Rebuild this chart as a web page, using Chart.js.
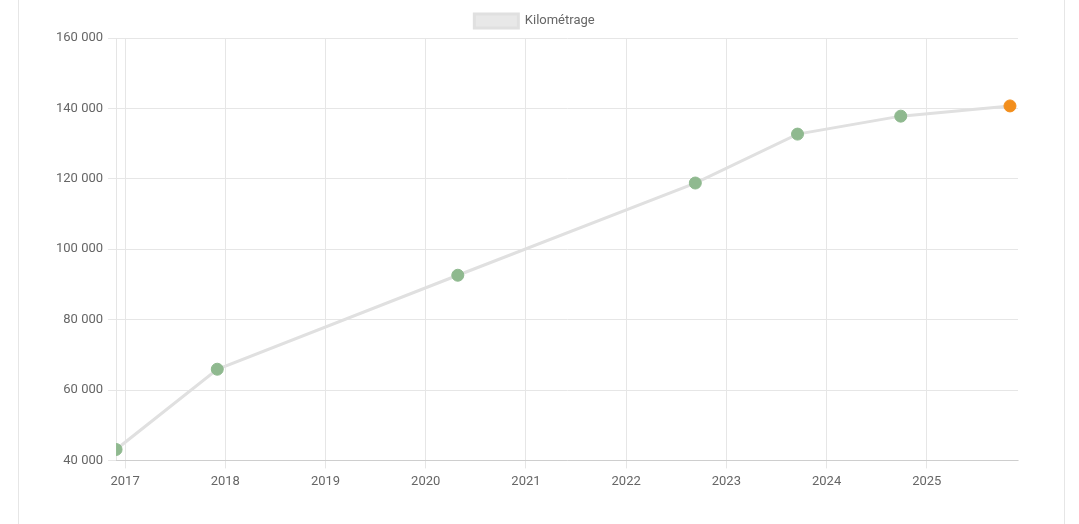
<!DOCTYPE html>
<html>
<head>
<meta charset="utf-8">
<script src="https://cdn.jsdelivr.net/npm/chart.js@4"></script>
<style>
  html, body { margin: 0; padding: 0; background: #fff; }
  .card {
    position: absolute;
    left: 18px; top: -2px;
    width: 1047px; height: 540px;
    border: 1px solid #e6e6e6;
    box-sizing: border-box;
  }
  #wrap { position: absolute; left: 0; top: 0; width: 1079px; height: 524px; }
</style>
</head>
<body>
<div class="card"></div>
<div id="wrap"><canvas id="kmChart"></canvas></div>
<script>
// Readings (decimal year, km)
const dates = [2016.91, 2017.92, 2020.32, 2022.69, 2023.71, 2024.74, 2025.83];
const mileage = [43100, 65900, 92600, 118800, 132700, 137800, 140700];
const pointColors = ['#8fb98f', '#8fb98f', '#8fb98f', '#8fb98f', '#8fb98f', '#8fb98f', '#f28e1c'];
const yearTicks = [2017, 2018, 2019, 2020, 2021, 2022, 2023, 2024, 2025];
const xMin = 2016.91, xMax = 2025.91;

Chart.defaults.font.family = 'Roboto, "Noto Sans", sans-serif';
Chart.defaults.font.size = 13;
Chart.defaults.color = '#666';

function fmt(v) {
  return String(v).replace(/\B(?=(\d{3})+(?!\d))/g, ' ');
}

const ctx = document.getElementById('kmChart');
new Chart(ctx, {
  type: 'line',
  data: {
    datasets: [{
      label: 'Kilométrage',
      data: dates.map((d, i) => ({ x: d, y: mileage[i] })),
      borderColor: '#e0e0e0',
      backgroundColor: '#e8e8e8',
      borderWidth: 3,
      tension: 0,
      pointRadius: 6,
      pointHoverRadius: 6,
      pointBackgroundColor: pointColors,
      pointBorderColor: pointColors,
      pointBorderWidth: 1
    }]
  },
  options: {
    responsive: true,
    maintainAspectRatio: false,
    animation: false,
    layout: { padding: { left: 51, right: 61, top: 4, bottom: 28 } },
    plugins: {
      legend: {
        labels: { boxWidth: 44, boxHeight: 14 }
      },
      tooltip: { enabled: false }
    },
    scales: {
      x: {
        type: 'linear',
        min: xMin,
        max: xMax,
        grid: { color: '#e6e6e6' },
        afterBuildTicks: scale => { scale.ticks = yearTicks.map(v => ({ value: v })); },
        ticks: { callback: v => String(v), maxRotation: 0, padding: 6 }
      },
      y: {
        min: 40000,
        max: 160000,
        grid: { color: '#e6e6e6' },
        ticks: { stepSize: 20000, padding: 5, callback: v => fmt(v) }
      }
    }
  }
});
</script>
</body>
</html>
